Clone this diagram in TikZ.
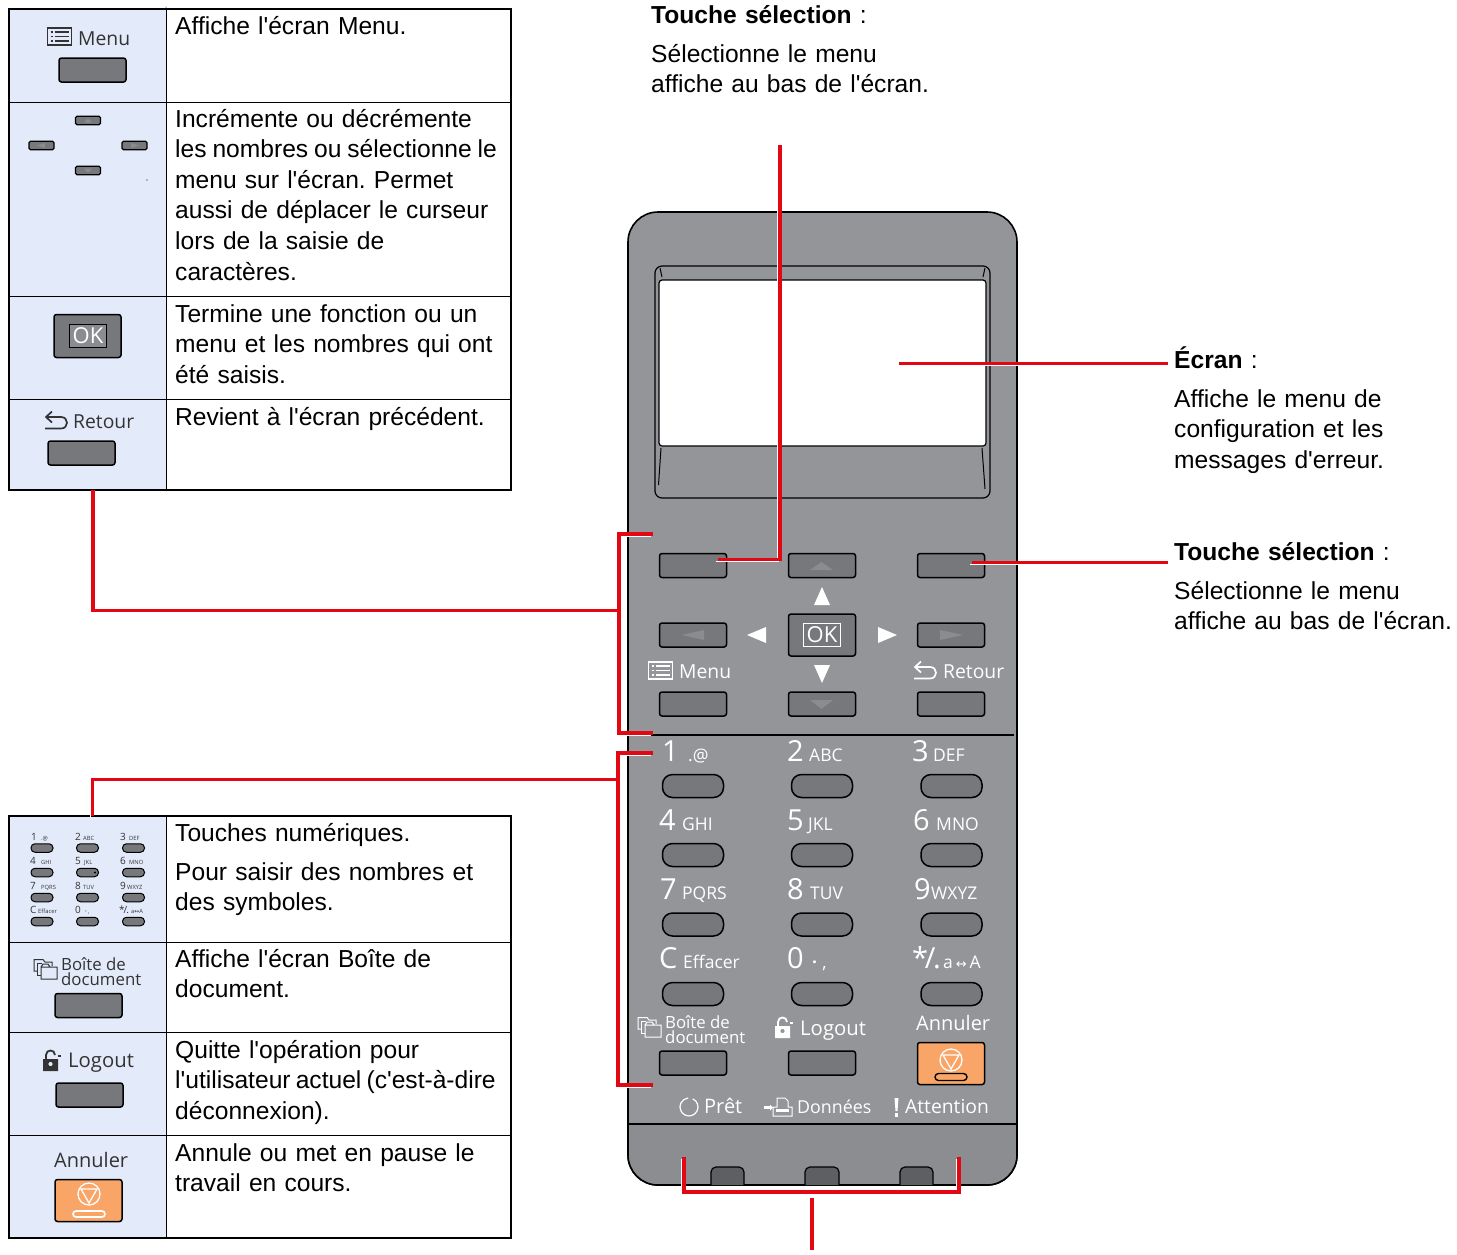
\documentclass[tikz,border=0pt]{standalone}
\usepackage{fontspec}
\newfontfamily\bodyfont{Liberation Sans}
\newfontfamily\panelfont{Open Sans}
\newfontfamily\symfont{DejaVu Sans}
\usepackage{tikz}
\usetikzlibrary{positioning}

\definecolor{panelgray}{HTML}{939598}
\definecolor{bandgray}{HTML}{8C8D90}
\definecolor{keygray}{HTML}{77787B}
\definecolor{keymark}{HTML}{8B8C8F}
\definecolor{ledgray}{HTML}{5E5F62}
\definecolor{cellblue}{HTML}{E3EBFB}
\definecolor{stoporange}{HTML}{F9A568}
\definecolor{leaderred}{HTML}{E30613}
\definecolor{icontext}{HTML}{333333}

\tikzset{
	bodytext/.style={anchor=base west, inner sep=0pt, align=left, text width=400pt, font=\bodyfont\frenchspacing\fontsize{24.6}{30.6}\selectfont},
	keylabel/.style={anchor=base west, inner sep=0pt, font=\panelfont\fontsize{19.3}{15}\selectfont},
	boxlabel/.style={anchor=base west, inner sep=0pt, align=left, font=\panelfont\fontsize{16.8}{15}\selectfont},
	keyrect/.style={draw=black, fill=keygray, line width=1.5pt, rounded corners=2.5pt, minimum width=67pt, minimum height=24pt, inner sep=0pt},
	keypill/.style={draw=black, fill=keygray, line width=1.5pt, rounded corners=10pt, minimum width=61pt, minimum height=23pt, inner sep=0pt},
	keyorange/.style={draw=black, fill=stoporange, line width=1.5pt, rounded corners=2.5pt, minimum width=67pt, minimum height=42pt, inner sep=0pt},
	keysmall/.style={draw=black, fill=keygray, line width=1.1pt, rounded corners=1.5pt, minimum width=25pt, minimum height=8.5pt, inner sep=0pt},
	minipill/.style={draw=black, fill=keygray, line width=1pt, rounded corners=4pt, minimum width=22pt, minimum height=8.5pt, inner sep=0pt},
	leader/.style={draw=leaderred, line width=3.2pt, preaction={draw=white, line width=1.5pt, transform canvas={xshift=-1.8pt, yshift=-1.8pt}}},
	pics/menuicon/.style={code={
		\draw[line width=1.1pt] (0,0) rectangle (24,17);
		\foreach \yy in {4,8.5,13} {
			\draw[line width=1.4pt] (3,\yy) -- (5,\yy);
			\draw[line width=1.4pt] (7,\yy) -- (21,\yy);
		}
	}},
	pics/backicon/.style={code={
		\draw[line width=1.7pt] (7,0.5) -- (1,6) -- (7,11.5);
		\draw[line width=1.7pt] (1,6) -- (16,6) .. controls (24,6) and (24,17.5) .. (16,17.5) -- (0,17.5);
	}},
	pics/foldericon/.style={code={
		\draw[line width=1pt] (7,21) rectangle (23,9) (7,9) -- (9,6) -- (14,6) -- (16,9);
		\draw[line width=1pt] (7,17) -- (3.5,17) -- (3.5,5) -- (8,5);
		\draw[line width=1pt] (3.5,13) -- (0,13) -- (0,1.5) -- (9,1.5) -- (11,4) -- (18,4) -- (18,8);
	}},
	pics/lockicon/.style={code={
		\fill[even odd rule] (0,9) rectangle (15,21) (7.5,14) circle (2.2);
		\draw[line width=1.8pt] (3,9) -- (3,5) .. controls (3,-1) and (12,-1) .. (12,5);
		\fill (15,5) rectangle (18,7);
	}},
	pics/stopicon/.style={code={
		\draw[white, line width=1.3pt] (0,0) circle (11);
		\draw[white, line width=1.3pt] (-8,-5) -- (8,-5) -- (0,9) -- cycle;
	}},
	pics/printicon/.style={code={
		\draw[line width=1pt] (0,19) -- (0,10) -- (4,10) -- (4,1) -- (12,1) -- (15,4) -- (15,10) -- (19,10) -- (19,19) -- cycle;
		\fill (3,12) rectangle (16,15);
	}},
}

\begin{document}
\begin{tikzpicture}[x=1pt, y=-1pt]

	% Dimensions
	\def\tableleft{9}
	\def\tablesplit{166}
	\def\tableright{511}
	\def\textleft{175}

	\useasboundingbox (0,0) rectangle (1457,1254);
	\fill[white] (0,0) rectangle (1457,1254);

	% Upper table
	\fill[cellblue] (\tableleft,9) rectangle (\tablesplit,490);
	\draw[line width=0.9pt] (\tablesplit,9) -- (\tablesplit,490);
	\draw[line width=0.9pt] (\tableleft,102) -- (\tableright,102);
	\draw[line width=0.9pt] (\tableleft,296) -- (\tableright,296);
	\draw[line width=0.9pt] (\tableleft,399) -- (\tableright,399);
	\draw[line width=1.8pt] (\tableleft,9) rectangle (\tableright,490);
	\fill (\tablesplit,7) circle (0.5);
	\fill (147,180) circle (0.6);

	\node[bodytext] (txtMenu) at (\textleft,34) {Affiche l'écran Menu.};
	\node[bodytext] (txtArrows) at (\textleft,127) {Incrémente ou décrémente\\{\spaceskip=.24em les nombres ou sélectionne le}\\menu sur l'écran. Permet\\aussi de déplacer le curseur\\lors de la saisie de\\caractères.};
	\node[bodytext] (txtOk) at (\textleft,322) {Termine une fonction ou un\\menu et les nombres qui ont\\été saisis.};
	\node[bodytext] (txtBack) at (\textleft,425) {Revient à l'écran précédent.};

	% Upper table keys
	\pic[icontext] at (47.5,28) {menuicon};
	\node[keylabel, text=icontext] (lblMenuA) at (78,45) {Menu};
	\node[keyrect] (keyMenuA) at (92.5,70) {};
	\node[keysmall] (keyUpA) at (88,120.5) {};
	\node[keysmall] (keyLeftA) at (41.5,145.5) {};
	\node[keysmall] (keyRightA) at (134.5,145.5) {};
	\node[keysmall] (keyDownA) at (88,170.5) {};
	\fill[keymark] (84,122.5) -- (92,122.5) -- (88,118.5) -- cycle;
	\fill[keymark] (37,145.5) -- (45,143) -- (45,148) -- cycle;
	\fill[keymark] (139,145.5) -- (131,143) -- (131,148) -- cycle;
	\fill[keymark] (84,168.5) -- (92,168.5) -- (88,172.5) -- cycle;
	\node[keyrect, minimum height=43pt] (keyOkA) at (87.5,336) {};
	\node[draw=black, fill=keymark, line width=1.8pt, minimum width=37pt, minimum height=23pt, inner sep=0pt, text=white, font=\panelfont\fontsize{22}{22}\selectfont] (lblOkA) at (88,336) {OK};
	\pic[icontext] at (45,411) {backicon};
	\node[keylabel, text=icontext] (lblBackA) at (73,428) {Retour};
	\node[keyrect] (keyBackA) at (81.5,453) {};

	% Lower table
	\fill[cellblue] (\tableleft,816) rectangle (\tablesplit,1238);
	\draw[line width=0.9pt] (\tablesplit,816) -- (\tablesplit,1238);
	\draw[line width=0.9pt] (\tableleft,942) -- (\tableright,942);
	\draw[line width=0.9pt] (\tableleft,1032) -- (\tableright,1032);
	\draw[line width=0.9pt] (\tableleft,1135) -- (\tableright,1135);
	\draw[line width=1.8pt] (\tableleft,816) rectangle (\tableright,1238);

	\node[bodytext] (txtDigits) at (\textleft,841) {Touches numériques.};
	\node[bodytext] (txtEnter) at (\textleft,880) {Pour saisir des nombres et\\des symboles.};
	\node[bodytext] (txtBox) at (\textleft,967) {Affiche l'écran Boîte de\\document.};
	\node[bodytext] (txtLogout) at (\textleft,1058) {Quitte l'opération pour\\{\spaceskip=.21em l'utilisateur actuel (c'est-à-dire}\\déconnexion).};
	\node[bodytext] (txtCancel) at (\textleft,1161) {Annule ou met en pause le\\travail en cours.};

	% Miniature keypad
	\foreach \xx/\cc in {42/a,87.5/b,133.5/c}
		\foreach \yy/\rr in {848/a,872.5/b,897.5/c,921.5/d}
			\node[minipill] (mini\cc\rr) at (\xx,\yy) {};
	\fill (95,872.5) circle (1.2);
	\foreach \xa/\xb/\yy/\dg/\lt [count=\i] in {
		31/41/840/1/.@, 75/83/840/2/ABC, 120/129/840/3/DEF,
		30/41/864/4/GHI, 75/84/864/5/JKL, 120/129/864/6/MNO,
		30/41/889/7/PQRS, 75/83/889/8/TUV, 120/127/889/9/WXYZ,
		30/38/913/C/Effacer, 75/85/913/0/{\textbf{·}\kern.2em,}, 119/131/913/{*\kern-.12em/\kern-.08em.}/{a{\symfont ↔}A}} {
		\node[anchor=base west, inner sep=0pt, text=icontext, font=\panelfont\fontsize{10}{10}\selectfont] (miniD\i) at (\xa,\yy) {\dg};
		\node[anchor=base west, inner sep=0pt, text=icontext, font=\panelfont\fontsize{5.8}{6}\selectfont] (miniL\i) at (\xb,\yy) {\lt};
	}

	\pic[icontext] at (34,958) {foldericon};
	\node[boxlabel, text=icontext] (lblBoxA) at (61,985) {Boîte de\\document};
	\node[keyrect] (keyBoxA) at (88.5,1005.5) {};
	\pic[icontext] at (43,1050) {lockicon};
	\node[keylabel, text=icontext, font=\panelfont\fontsize{20.3}{15}\selectfont] (lblLogoutA) at (68,1067) {Logout};
	\node[keyrect] (keyLogoutA) at (89.5,1095) {};
	\node[keylabel, text=icontext, font=\panelfont\fontsize{20}{15}\selectfont] (lblCancelA) at (54,1167) {Annuler};
	\node[keyorange] (keyCancelA) at (88.5,1200.5) {};
	\pic at (89,1194) {stopicon};
	\draw[white, line width=1.6pt, rounded corners=3pt] (73,1211) rectangle (105,1217);

	% Panel body
	\draw[fill=panelgray, line width=1.6pt, rounded corners=30pt] (628,212) rectangle (1017,1185);
	\begin{scope}
		\clip (620,1124) rectangle (1025,1190);
		\draw[fill=bandgray, line width=1.6pt, rounded corners=30pt] (628,1000) rectangle (1017,1185);
	\end{scope}
	\draw[line width=1.6pt] (628,1124) -- (1017,1124);
	\draw[line width=1.3pt] (628,735) -- (1014,735);

	% Screen
	\draw[line width=1.2pt, rounded corners=7pt] (655,266) rectangle (990,498);
	\draw[fill=white, line width=1.2pt, rounded corners=3pt] (659,280) rectangle (986,446);
	\draw[line width=1pt] (661,448) -- (658.5,485);
	\draw[line width=1pt] (982,448) -- (985,489);
	\draw[line width=1pt] (660,268) -- (662,277);
	\draw[line width=1pt] (985,268) -- (983,277);

	% Navigation keys
	\node[keyrect] (keySelL) at (693,565.5) {};
	\node[keyrect] (keyUp) at (822,565.5) {};
	\node[keyrect] (keySelR) at (951,565.5) {};
	\node[keyrect] (keyLeft) at (693,635) {};
	\node[keyrect] (keyRight) at (951,635) {};
	\node[keyrect] (keyMenu) at (693,704) {};
	\node[keyrect] (keyDown) at (822,704) {};
	\node[keyrect] (keyBack) at (951,704) {};
	\node[keyrect, minimum height=42pt] (keyOk) at (822,635) {};
	\node[draw=white, line width=1.8pt, minimum width=37pt, minimum height=23pt, inner sep=0pt, text=white, font=\panelfont\fontsize{22}{22}\selectfont] (lblOk) at (822,635) {OK};

	% Arrows on the keys
	\fill[keymark] (810,570) -- (833,570) -- (821.5,562) -- cycle;
	\fill[keymark] (810,700) -- (833,700) -- (821.5,709) -- cycle;
	\fill[keymark] (682,635) -- (704,630) -- (704,640) -- cycle;
	\fill[keymark] (963,635) -- (940,630) -- (940,640) -- cycle;
	\fill[white] (822,587) -- (830,605) -- (814,605) -- cycle;
	\fill[white] (822,683) -- (830,665) -- (814,665) -- cycle;
	\fill[white] (747,635) -- (766,627) -- (766,643) -- cycle;
	\fill[white] (897,635) -- (878,627) -- (878,643) -- cycle;

	% Panel labels
	\pic[white] at (648.5,662) {menuicon};
	\node[keylabel, text=white] (lblMenu) at (679,678) {Menu};
	\pic[white] at (914,661) {backicon};
	\node[keylabel, text=white] (lblBack) at (943,678) {Retour};

	% Number keys
	\foreach \xx/\cc in {693/a,822/b,951.5/c}
		\foreach \yy/\rr in {786/a,855/b,924.5/c,994/d}
			\node[keypill] (num\cc\rr) at (\xx,\yy) {};
	\foreach \xa/\xb/\yy/\dg/\lt [count=\i] in {
		662/688/761/1/.@, 787/809/761/2/ABC, 912/933/761/3/DEF,
		659/682/830/4/GHI, 787/808/830/5/JKL, 913/936/830/6/MNO,
		660/682/899/7/PQRS, 787/810/899/8/TUV, 914/931/899/9/WXYZ,
		659/683/968/C/Effacer, 787/812/968/0/{\textbf{·}\kern.3em,}, 912/943/968/{*\kern-.12em/\kern-.08em.}/{a\,{\symfont\fontsize{13}{13}\selectfont ↔}\,A}} {
		\node[anchor=base west, inner sep=0pt, text=white, font=\panelfont\fontsize{29}{29}\selectfont] (numD\i) at (\xa,\yy) {\dg};
		\node[anchor=base west, inner sep=0pt, text=white, font=\panelfont\fontsize{17.5}{17}\selectfont] (numL\i) at (\xb,\yy) {\lt};
	}

	% Function keys
	\pic[white] at (638,1016) {foldericon};
	\node[boxlabel, text=white] (lblBox) at (665,1043) {Boîte de\\document};
	\pic[white] at (775,1017) {lockicon};
	\node[keylabel, text=white, font=\panelfont\fontsize{20.3}{15}\selectfont] (lblLogout) at (800,1035) {Logout};
	\node[keylabel, text=white, font=\panelfont\fontsize{20}{15}\selectfont] (lblCancel) at (916,1030) {Annuler};
	\node[keyrect] (keyBox) at (693,1063) {};
	\node[keyrect] (keyLogout) at (822,1063) {};
	\node[keyorange] (keyCancel) at (951,1063.5) {};
	\pic at (951,1060) {stopicon};
	\draw[fill=stoporange, line width=1.4pt, rounded corners=3.5pt] (935,1073.5) rectangle (967,1080.5);

	% Status lights
	\draw[white, line width=1.2pt] (692.8,1098.8) arc[start angle=-65, end angle=265, radius=9];
	\node[keylabel, text=white, font=\panelfont\fontsize{20}{15}\selectfont] (lblReady) at (704,1113) {Prêt};
	\fill[white] (764,1106) rectangle (770,1109);
	\fill[white] (770,1104.5) -- (773,1107.5) -- (770,1110.5) -- cycle;
	\pic[white] at (773,1097) {printicon};
	\node[keylabel, text=white, font=\panelfont\fontsize{17.8}{15}\selectfont] (lblData) at (797,1113) {Données};
	\fill[white] (894.5,1098) -- (898.5,1098) -- (897.5,1111) -- (895.5,1111) -- cycle;
	\fill[white] (894.5,1113) rectangle (898,1116.5);
	\node[keylabel, text=white] (lblAttn) at (905,1113) {Attention};

	\draw[fill=ledgray, line width=1.2pt, rounded corners=5pt] (711,1185) -- (711,1167) -- (744,1167) -- (744,1185);
	\draw[fill=ledgray, line width=1.2pt, rounded corners=5pt] (805,1185) -- (805,1167) -- (839,1167) -- (839,1185);
	\draw[fill=ledgray, line width=1.2pt, rounded corners=5pt] (900,1185) -- (900,1167) -- (933,1167) -- (933,1185);

	% Callout texts
	\node[bodytext] (callTop) at (651,23) {\textbf{Touche sélection} :};
	\node[bodytext] (callTopBody) at (651,62) {Sélectionne le menu\\affiche au bas de l'écran.};
	\node[bodytext] (callScreen) at (1174,368) {\textbf{Écran} :};
	\node[bodytext, text width=280pt] (callScreenBody) at (1174,407) {Affiche le menu de\\configuration et les\\messages d'erreur.};
	\node[bodytext, text width=280pt] (callRight) at (1174,560) {\textbf{Touche sélection} :};
	\node[bodytext, text width=280pt] (callRightBody) at (1174,599) {Sélectionne le menu\\affiche au bas de l'écran.};

	% Leader ends
	\coordinate (topEnd) at (780,145);
	\coordinate (topElbow) at (780,559.5);
	\coordinate (topKey) at (718,559.5);
	\coordinate (scrIn) at (899,363.5);
	\coordinate (scrOut) at (1168,363.5);
	\coordinate (selIn) at (972,562.5);
	\coordinate (selOut) at (1168,562.5);

	\coordinate (navTop) at (653,534);
	\coordinate (navTopL) at (619,534);
	\coordinate (navBotL) at (619,733);
	\coordinate (navBot) at (653,733);
	\coordinate (navMid) at (619,610.5);
	\coordinate (navCorner) at (93,610.5);
	\coordinate (navTable) at (93,490);

	\coordinate (numTop) at (653,753);
	\coordinate (numTopL) at (618,753);
	\coordinate (numBotL) at (618,1085);
	\coordinate (numBot) at (653,1085);
	\coordinate (numMid) at (618,779.5);
	\coordinate (numCorner) at (92.5,779.5);
	\coordinate (numTable) at (92.5,816);

	\coordinate (ledL) at (684,1157);
	\coordinate (ledLB) at (684,1192);
	\coordinate (ledRB) at (959,1192);
	\coordinate (ledR) at (959,1157);
	\coordinate (ledStem) at (812,1198);
	\coordinate (ledEnd) at (812,1250);

	% Leaders
	\draw[leader] (topEnd) -- (topElbow) -- (topKey);
	\draw[leader] (scrIn) -- (scrOut);
	\draw[leader] (selIn) -- (selOut);
	\draw[leader] (navTop) -- (navTopL) -- (navBotL) -- (navBot);
	\draw[leader] (navMid) -- (navCorner) -- (navTable);
	\draw[leader] (numTop) -- (numTopL) -- (numBotL) -- (numBot);
	\draw[leader] (numMid) -- (numCorner) -- (numTable);
	\draw[leader] (ledL) -- (ledLB) -- (ledRB) -- (ledR);
	\draw[leader] (ledStem) -- (ledEnd);

\end{tikzpicture}
\end{document}
